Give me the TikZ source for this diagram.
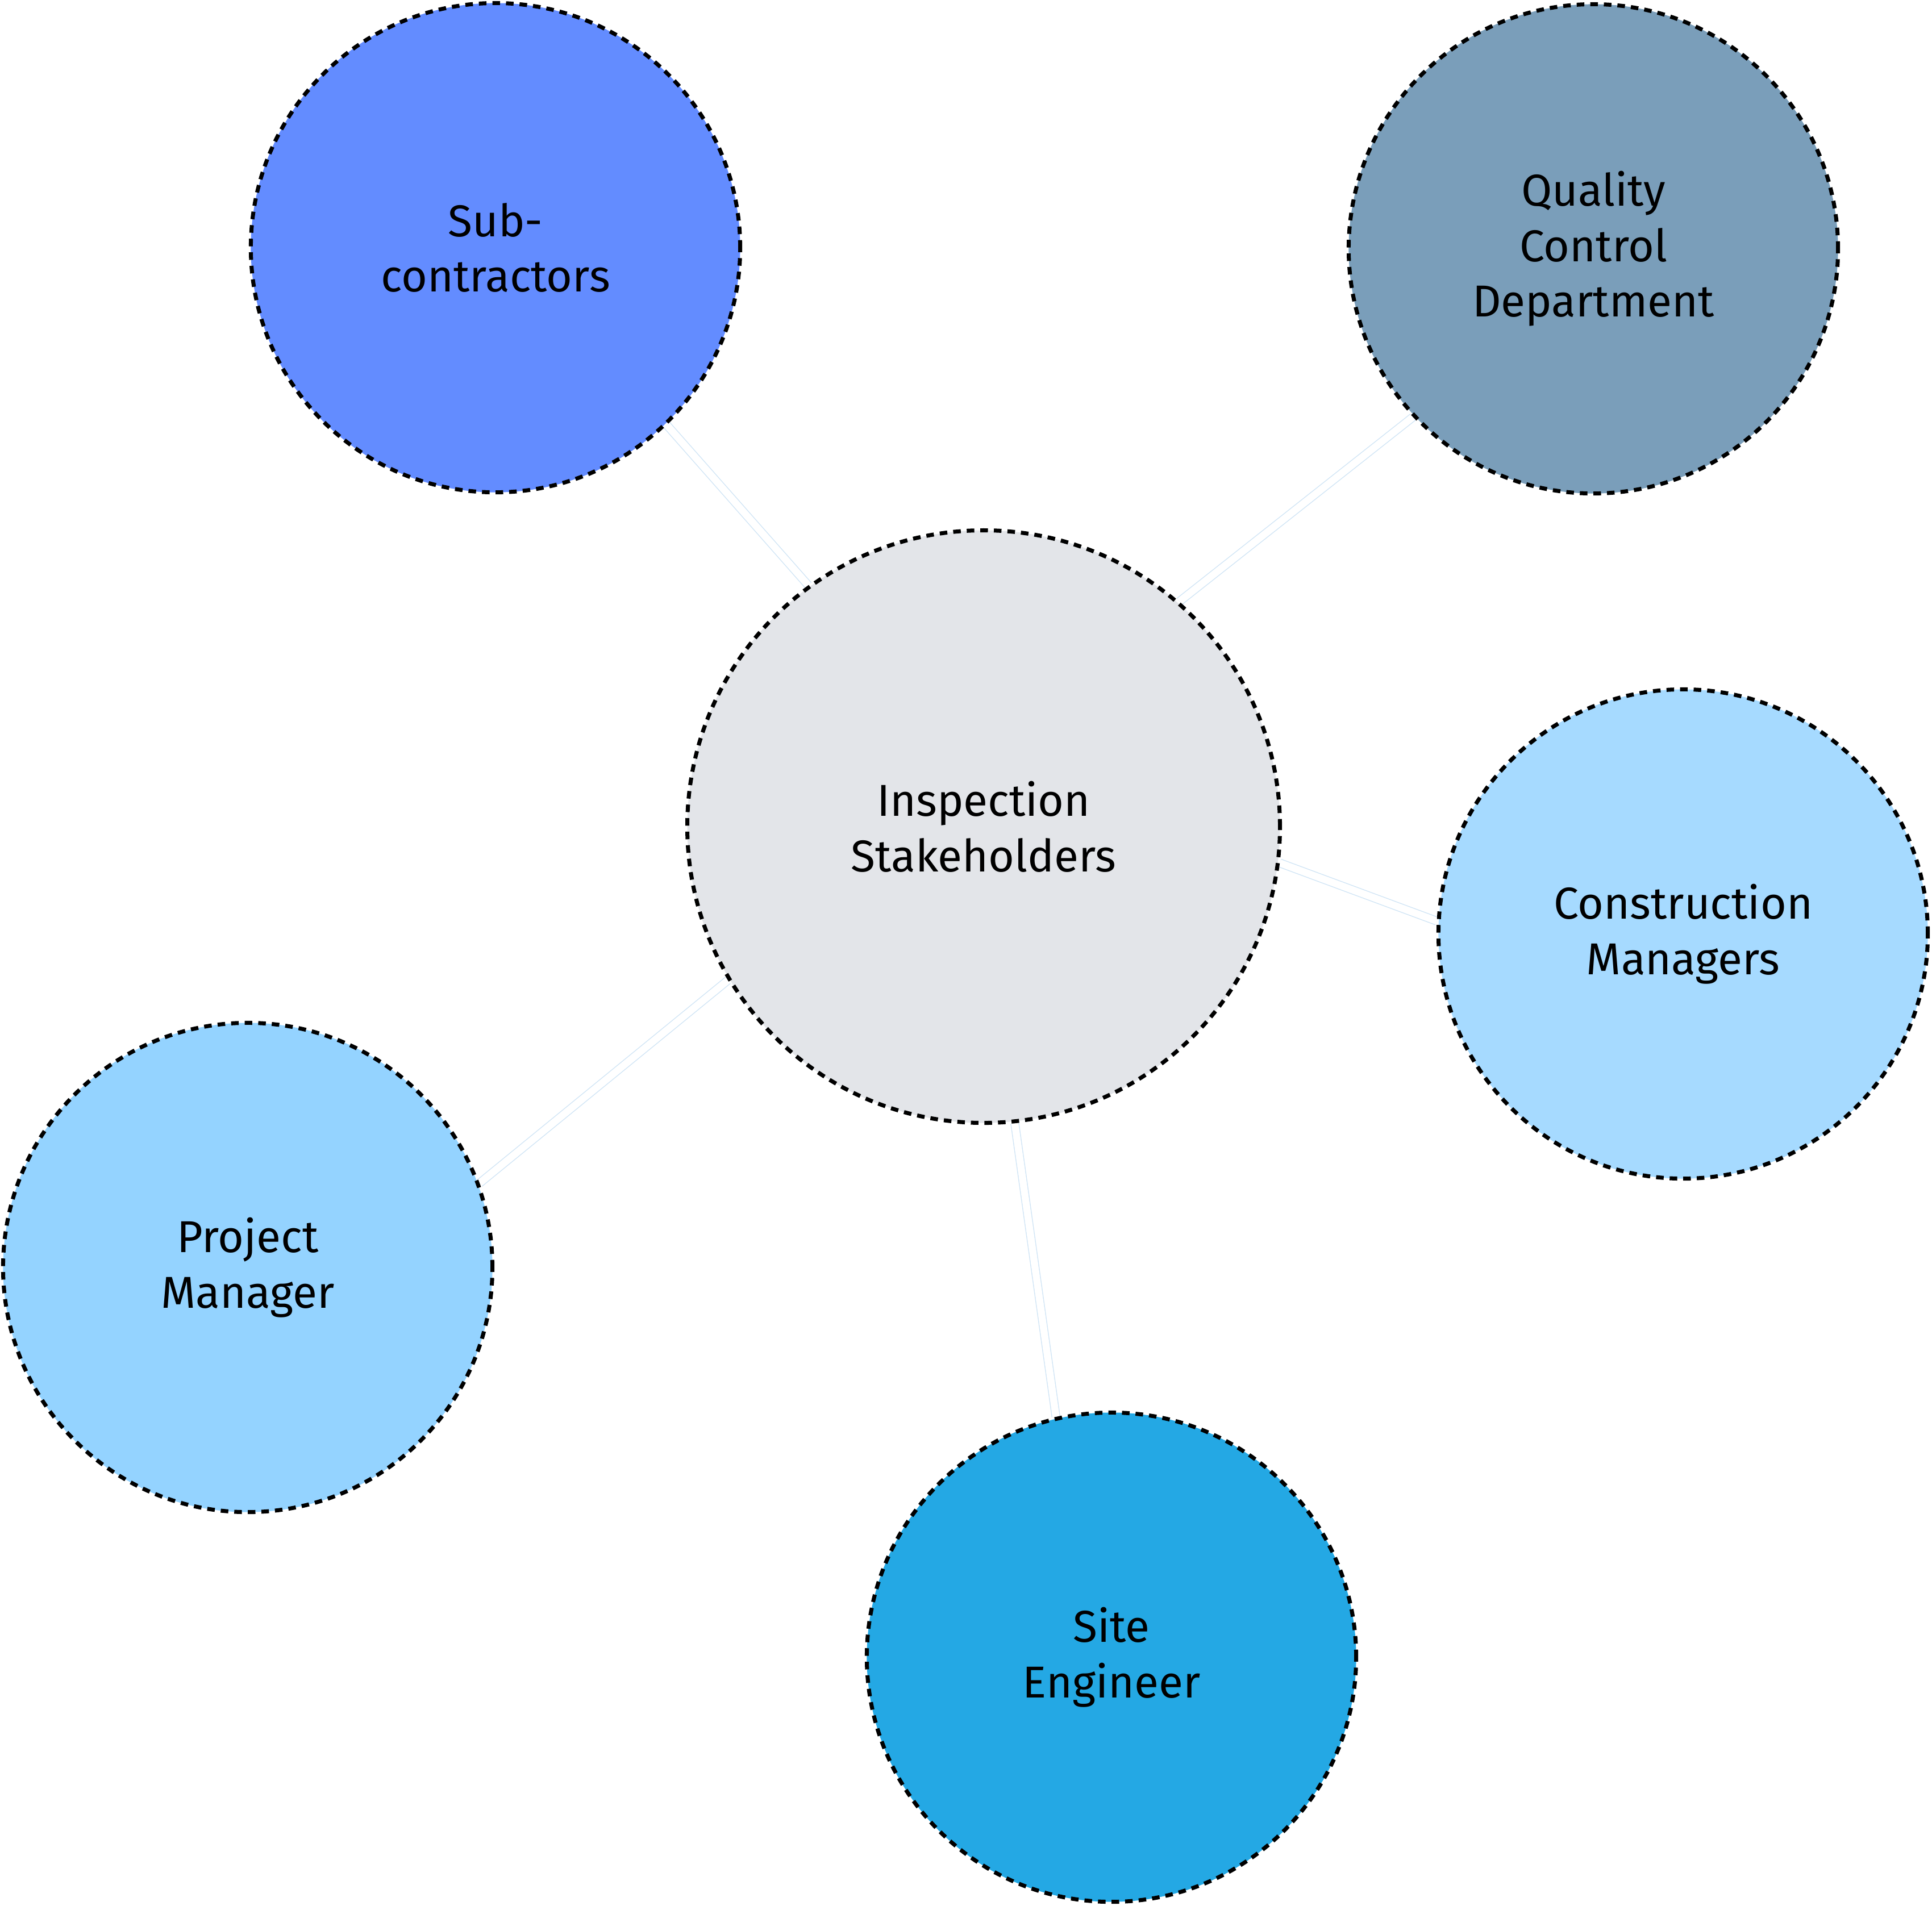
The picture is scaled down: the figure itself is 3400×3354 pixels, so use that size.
\documentclass[tikz,border=0pt]{standalone}
\usepackage{fontspec}
\setmainfont{Fira Sans}
\usetikzlibrary{backgrounds}

\definecolor{subblue}{HTML}{638CFF}
\definecolor{qcgray}{HTML}{7A9EBA}
\definecolor{hubgray}{HTML}{E3E5E9}
\definecolor{cmblue}{HTML}{A6DAFF}
\definecolor{pmblue}{HTML}{94D3FF}
\definecolor{seblue}{HTML}{24A8E4}
\definecolor{linkblue}{HTML}{CFE4F5}

\begin{document}
\begin{tikzpicture}[x=0.005cm,y=-0.005cm,
    bubble/.style={circle,draw=black,line width=1pt,dash pattern=on 1.9pt off 1.5pt,
      minimum size=4.31cm,inner sep=0pt,align=center,font=\fontsize{11.2}{13.9}\selectfont},
    link/.style={draw=linkblue,line width=0.2pt,double=white,double distance=1.8pt}]
  \useasboundingbox (0,0) rectangle (3400,3354);
  % hub
  \node[bubble,fill=hubgray,minimum size=5.22cm] (hub) at (1731,1455) {Inspection\\Stakeholders};
  % stakeholders round the hub
  \node[bubble,fill=subblue] (sub) at (872,436) {Sub-\\contractors};
  \node[bubble,fill=qcgray] (qc) at (2804,438) {Quality\\Control\\Department};
  \node[bubble,fill=cmblue] (cm) at (2962,1644) {Construction\\Managers};
  \node[bubble,fill=pmblue] (pm) at (436,2231) {Project\\Manager};
  \node[bubble,fill=seblue] (se) at (1956,2917) {Site\\Engineer};
  % links, border angle at the hub / at the stakeholder
  \begin{scope}[on background layer]
    \foreach \n/\a/\b in {sub/126.8/-46.8,qc/49.4/-137.8,cm/-7.5/177.9,pm/211.7/20.2,se/-84/103.7}
      \draw[link] (hub.\a) -- (\n.\b);
  \end{scope}
\end{tikzpicture}
\end{document}
